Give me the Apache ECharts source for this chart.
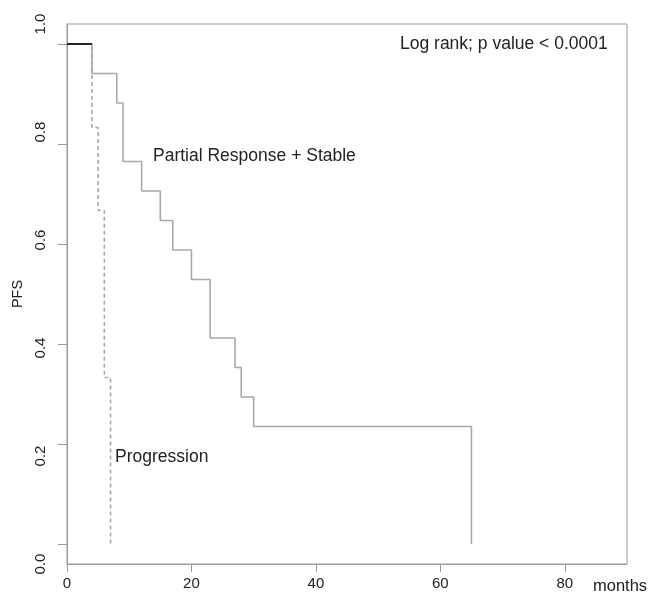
<!DOCTYPE html>
<html>
<head>
    <meta charset="utf-8">
    <title>PFS</title>
    <script type="text/javascript" src="https://cdn.jsdelivr.net/npm/echarts@6/dist/echarts.min.js"></script>
    <style>
        html, body { margin:0; padding:0; background:#fff; }
        #pfs-chart { width:664px; height:597px; }
    </style>
</head>
<body>
<div id="pfs-chart"></div>
<script type="text/javascript">
// Kaplan-Meier steps: [months, PFS]
var stableData = [[0,1],[4,0.941],[8,0.882],[9,0.765],[12,0.706],[15,0.647],[17,0.588],
                  [20,0.529],[23,0.412],[27,0.353],[28,0.294],[30,0.235],[65,0]];
var progressionData = [[0,1],[4,0.833],[5,0.667],[6,0.333],[7,0]];
var overlapData = [[0,1],[4,1]];   // both curves on top of each other at the start
var xTicks = [0,20,40,60,80];
var yTicks = [0,0.2,0.4,0.6,0.8,1.0];

var font = 'Liberation Sans, Arial, sans-serif';
var gray = '#9a9a9a';
var myChart = echarts.init(document.getElementById('pfs-chart'));

myChart.setOption({
    animation:false,
    grid:{left:67, top:24, right:37, bottom:33, outerBoundsMode:'none', containLabel:false,
          show:true, borderColor:gray, borderWidth:1},
    xAxis:{
        type:'value', min:0, max:90,
        name:'months', nameLocation:'end', nameGap:-34,
        nameTextStyle:{fontFamily:font, fontSize:16.5, color:'#222', padding:[14,0,0,0], align:'left', verticalAlign:'top'},
        axisLine:{onZero:false, lineStyle:{color:gray}},
        axisTick:{customValues:xTicks, length:8, lineStyle:{color:gray}},
        axisLabel:{customValues:xTicks, margin:12, fontFamily:font, fontSize:15, color:'#222'},
        splitLine:{show:false}
    },
    yAxis:[{
        type:'value', min:-0.04, max:1.04,
        axisLine:{show:true, lineStyle:{color:gray}},
        axisTick:{show:true, customValues:yTicks, length:9, lineStyle:{color:gray}},
        axisLabel:{show:false},
        splitLine:{show:false}
    },{
        // labels only; in the picture they are spread over the whole box
        type:'value', min:0, max:1, interval:0.2, position:'left',
        name:'PFS', nameLocation:'middle', nameGap:38, nameRotate:90,
        nameTextStyle:{fontFamily:font, fontSize:14.5, color:'#222'},
        axisLine:{show:false}, axisTick:{show:false}, splitLine:{show:false},
        axisLabel:{rotate:90, margin:19, fontFamily:font, fontSize:15, color:'#222',
            formatter:function(v){ return v.toFixed(1); }}
    }],
    series:[{
        type:'line', step:'end', data:stableData, showSymbol:false, symbol:'none',
        lineStyle:{color:'#a8a8a8', width:1.6}
    },{
        type:'line', step:'end', data:progressionData, showSymbol:false, symbol:'none',
        lineStyle:{color:'#a8a8a8', width:1.6, type:[4,3]}
    },{
        type:'line', data:overlapData, showSymbol:false, symbol:'none',
        lineStyle:{color:'#222', width:2}
    }],
    graphic:[
        {type:'text', x:400, y:44, style:{text:'Log rank; p value < 0.0001', font:'17.5px ' + font, fill:'#222', verticalAlign:'middle'}},
        {type:'text', x:153, y:156, style:{text:'Partial Response + Stable', font:'17.5px ' + font, fill:'#222', verticalAlign:'middle'}},
        {type:'text', x:115, y:457, style:{text:'Progression', font:'17.5px ' + font, fill:'#222', verticalAlign:'middle'}}
    ]
});
</script>
</body>
</html>
